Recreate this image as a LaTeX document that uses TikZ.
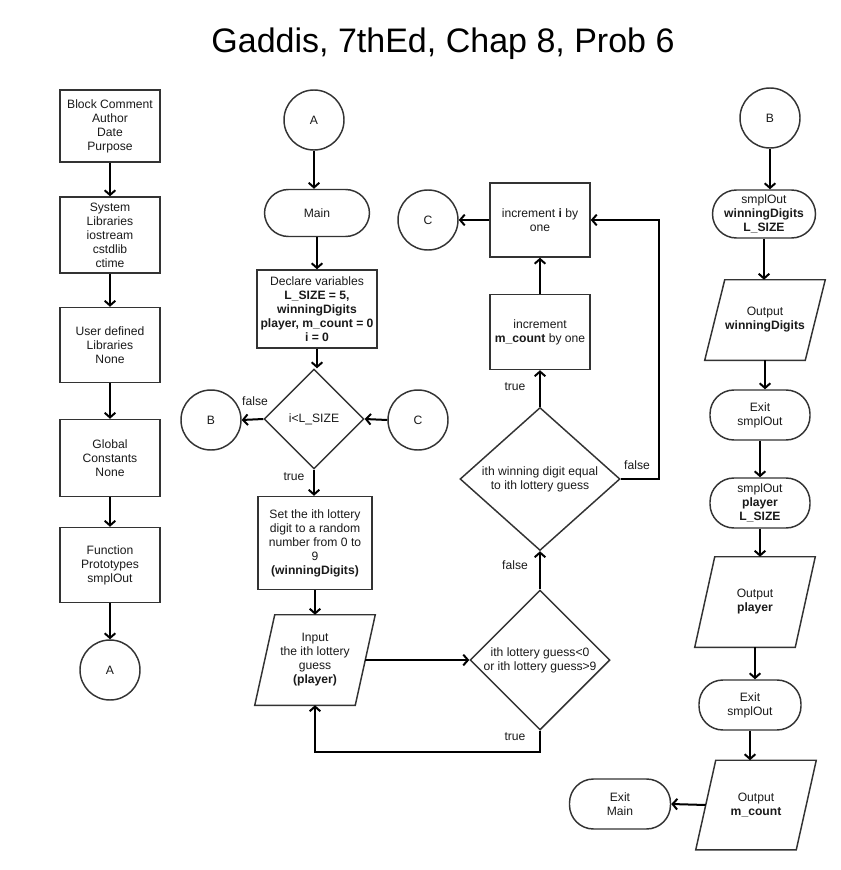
\documentclass[tikz,border=0pt]{standalone}
\usepackage{fontspec}
\setmainfont{Liberation Sans}
\usetikzlibrary{shapes.geometric,arrows.meta,calc}

\definecolor{edge}{HTML}{333333}
\definecolor{ink}{HTML}{1A1A1A}
\def\px{0.75pt}

% outline of an input/output block around an undrawn rectangle node
\newcommand{\slantbox}[2]{%
  \draw[boxline] ($(#1.north west)+(#2,0)$) -- ($(#1.north east)+(#2,0)$)
    -- ($(#1.south east)+(-#2,0)$) -- ($(#1.south west)+(-#2,0)$) -- cycle;}

\begin{document}
\begin{tikzpicture}[x=0.75pt,y=-0.75pt,
  txt/.style={font=\fontsize{9.1}{10.5}\selectfont, text=ink, align=center},
  boxline/.style={draw=edge, line width=1.1pt},
  proc/.style={txt, boxline, rectangle, inner sep=1pt,
    minimum width={#1*\px}},
  hgt/.style={minimum height={#1*\px}},
  term/.style={txt, boxline, rectangle, rounded corners=18pt, inner sep=1pt,
    minimum width={#1*\px}},
  conn/.style={txt, boxline, circle, inner sep=0pt, minimum size={60*\px}},
  dec/.style n args={2}{txt, boxline, diamond, inner sep=0pt,
    minimum width={#1*\px}, minimum height={#2*\px}},
  io/.style={txt, rectangle, inner sep=1pt, minimum width={#1*\px}},
  arr/.style={-{Straight Barb[length=3.5pt,width=8pt]}, line width=1.5pt, black},
  lbl/.style={txt},
]
\useasboundingbox[fill=white] (0,0) rectangle (840,870);

% title
\node[anchor=base, font=\fontsize{25.5}{30}\selectfont] (title) at (443,53)
  {Gaddis, 7thEd, Chap 8, Prob 6};

% ---- preamble column ----
\node[proc=100, hgt=72] (blk) at (110,126) {Block Comment\\Author\\Date\\Purpose};
\node[proc=100, hgt=76] (sys) at (110,235) {System\\Libraries\\iostream\\cstdlib\\ctime};
\node[proc=100, hgt=75] (usr) at (110,345) {User defined\\Libraries\\None};
\node[proc=100, hgt=77] (glb) at (110,458) {Global\\Constants\\None};
\node[proc=100, hgt=75] (fun) at (110,565) {Function\\Prototypes\\smplOut};
\node[conn] (toA) at (110,670) {A};

\foreach \a/\b in {blk/sys, sys/usr, usr/glb, glb/fun, fun/toA}
  \draw[arr] (\a.south) -- (\b.north);

% ---- main program ----
\node[conn] (fromA) at (314,120) {A};
\node[term=105, hgt=47] (main) at (317,213) {Main};
\node[proc=120, hgt=78] (decl) at (317,309)
  {Declare variables\\\textbf{L\_SIZE = 5,}\\\textbf{winningDigits}\\\textbf{player, m\_count = 0}\\\textbf{i = 0}};
\node[dec={100}{100}] (loop) at (314,419) {i<L\_SIZE};
\node[conn] (toB) at (211,420) {B};
\node[conn] (fromC) at (418,420) {C};
\node[proc=114, hgt=93] (setd) at (315,543)
  {Set the ith lottery\\digit to a random\\number from 0 to\\9\\\textbf{(winningDigits)}};
\node[io=100, hgt=90] (inp) at (315,660)
  {Input\\the ith lottery\\guess\\\textbf{(player)}};
\slantbox{inp}{10}
\node[dec={140}{140}] (range) at (540,660)
  {ith lottery guess<0\\or ith lottery guess>9};
\node[dec={160}{143}] (match) at (540,479)
  {ith winning digit equal\\to ith lottery guess};
\node[proc=100, hgt=75] (incm) at (540,332) {increment\\\textbf{m\_count} by one};
\node[proc=100, hgt=74] (inci) at (540,220) {increment \textbf{i} by\\one};
\node[conn] (toC) at (428,220) {C};

\coordinate (back) at (540,752);
\coordinate (rside) at (659,220);

\draw[arr] (fromA.south) -- (fromA.south |- main.north);
\draw[arr] (main.south) -- (main.south |- decl.north);
\draw[arr] (decl.south) -- (decl.south |- loop.north);
\draw[arr] (loop.west) -- (toB.east);
\draw[arr] (fromC.west) -- (loop.east);
\draw[arr] (loop.south) -- (loop.south |- setd.north);
\draw[arr] (setd.south) -- (setd.south |- inp.north);
\draw[arr] (inp.east) -- (range.west);
\draw[arr] (range.south) -- (back) -| (inp.south);
\draw[arr] (range.north) -- (match.south);
\draw[arr] (match.north) -- (incm.south);
\draw[arr] (incm.north) -- (inci.south);
\draw[arr] (inci.west) -- (toC.east);
\draw[arr] (match.east) -- (match.east -| rside) -- (rside) -- (inci.east);

\node[lbl] (lf1) at (255,401) {false};
\node[lbl] (lt1) at (294,477) {true};
\node[lbl] (lf2) at (515,565) {false};
\node[lbl] (lt2) at (515,737) {true};
\node[lbl] (lt3) at (515,387) {true};
\node[lbl] (lf3) at (637,465) {false};

% ---- smplOut calls ----
\node[conn] (fromB) at (770,118) {B};
\node[term=103, hgt=48] (call1) at (764,214) {smplOut\\\textbf{winningDigits}\\\textbf{L\_SIZE}};
\node[io=100, hgt=80] (out1) at (765,320) {Output\\\textbf{winningDigits}};
\slantbox{out1}{10}
\node[term=100, hgt=50] (ret1) at (760,415) {Exit\\smplOut};
\node[term=100, hgt=50] (call2) at (760,503) {smplOut\\\textbf{player}\\\textbf{L\_SIZE}};
\node[io=100, hgt=90] (out2) at (755,602) {Output\\\textbf{player}};
\slantbox{out2}{10}
\node[term=102, hgt=50] (ret2) at (750,705) {Exit\\smplOut};
\node[io=100, hgt=89] (out3) at (756,805) {Output\\\textbf{m\_count}};
\slantbox{out3}{10}
\node[term=101, hgt=50] (endm) at (620,804) {Exit\\Main};

\foreach \a/\b in {fromB/call1, call1/out1, out1/ret1, ret1/call2, call2/out2, out2/ret2, ret2/out3}
  \draw[arr] (\a.south) -- (\a.south |- \b.north);
\draw[arr] (out3.west) -- (endm.east);
\end{tikzpicture}
\end{document}
